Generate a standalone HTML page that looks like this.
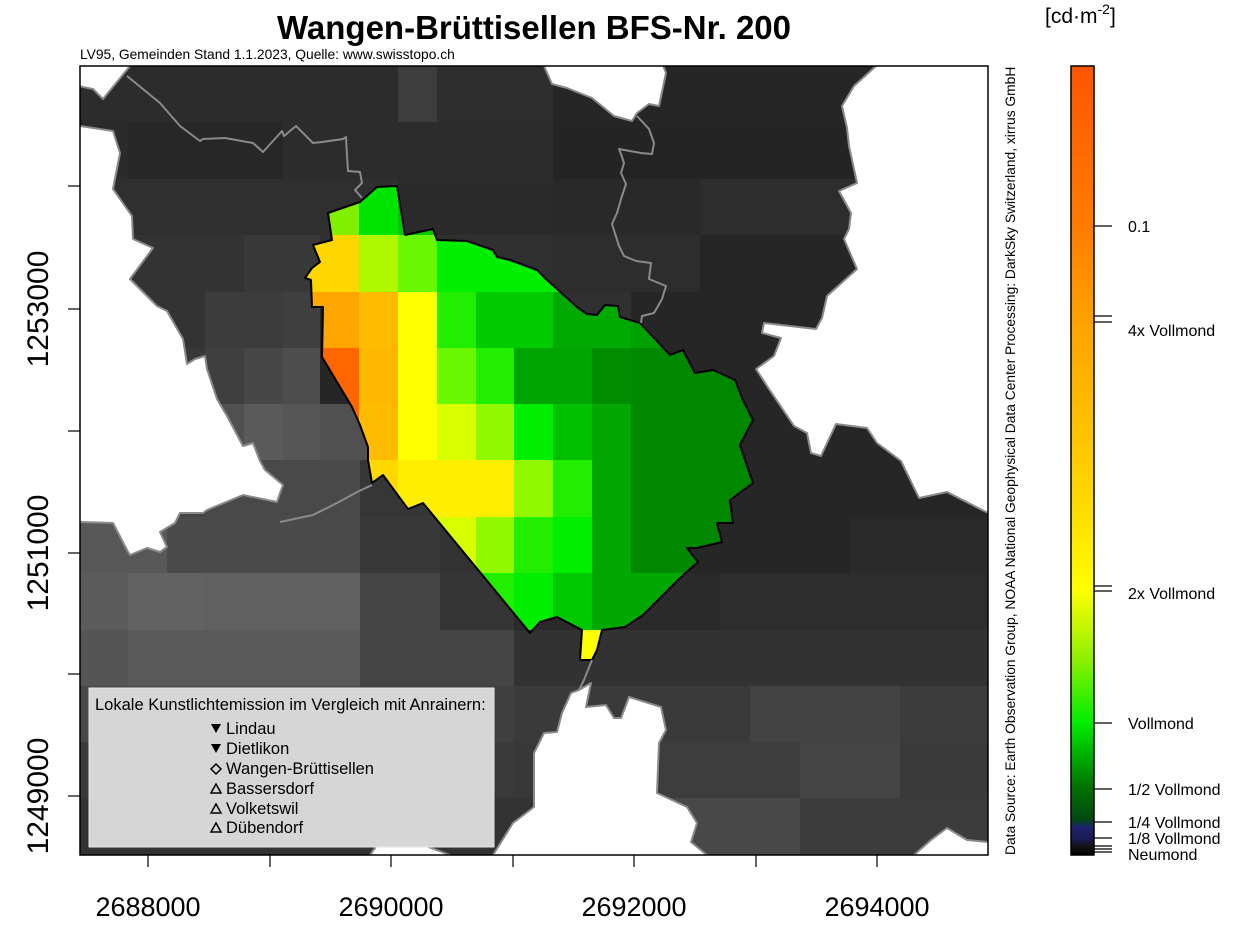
<!DOCTYPE html>
<html><head><meta charset="utf-8"><style>
html,body{margin:0;padding:0;background:#fff;}
svg{display:block;font-family:"Liberation Sans",sans-serif;}
</style></head><body>
<svg width="1235" height="926" viewBox="0 0 1235 926" xmlns="http://www.w3.org/2000/svg">
<defs>
<clipPath id="plot"><rect x="80" y="66" width="908" height="789"/></clipPath>
<clipPath id="muni"><polygon id="mp" points="328,213 360,202 377,187 397,186 405,235 433,229 437,240 467,241 493,250 497,257 510,260 537,270 547,280 577,307 587,314 597,315 605,305 618,306 620,317 640,323 670,355 683,350 695,373 713,370 735,380 743,400 753,420 740,445 753,483 730,500 733,523 717,523 722,542 697,548 687,548 698,562 680,578 643,615 625,627 602,630 597,650 592,660 580,660 582,630 557,617 540,622 530,633 423,503 408,509 383,475 372,483 368,460 368,447 360,425 352,407 322,357 323,307 312,307 311,280 305,278 312,268 320,262 313,245 332,240 328,213"/></clipPath>
<linearGradient id="cb" x1="0" y1="0" x2="0" y2="1">
<stop offset="0" stop-color="#ff5500"/>
<stop offset="0.203" stop-color="#ff7c00"/>
<stop offset="0.325" stop-color="#ffa200"/>
<stop offset="0.55" stop-color="#ffd800"/>
<stop offset="0.665" stop-color="#ffff00"/>
<stop offset="0.75" stop-color="#90f000"/>
<stop offset="0.832" stop-color="#00ee00"/>
<stop offset="0.916" stop-color="#007000"/>
<stop offset="0.955" stop-color="#004a10"/>
<stop offset="0.965" stop-color="#202070"/>
<stop offset="0.98" stop-color="#1a1a50"/>
<stop offset="0.99" stop-color="#111"/>
<stop offset="1" stop-color="#000"/>
</linearGradient>
</defs>
<g clip-path="url(#plot)" shape-rendering="crispEdges">
<rect x="80" y="66" width="318" height="57" fill="#2c2c2c"/><rect x="398" y="66" width="39" height="57" fill="#3d3d3d"/><rect x="437" y="66" width="116" height="57" fill="#2e2e2e"/><rect x="553" y="66" width="435" height="57" fill="#262626"/>
<rect x="80" y="122" width="48" height="57" fill="#2b2b2b"/><rect x="128" y="122" width="155" height="57" fill="#272727"/><rect x="283" y="122" width="270" height="57" fill="#2c2c2c"/><rect x="553" y="122" width="435" height="57" fill="#242424"/>
<rect x="80" y="179" width="318" height="57" fill="#2f2f2f"/><rect x="398" y="179" width="155" height="57" fill="#2b2b2b"/><rect x="553" y="179" width="147" height="57" fill="#292929"/><rect x="700" y="179" width="288" height="57" fill="#2d2d2d"/>
<rect x="80" y="235" width="164" height="57" fill="#333"/><rect x="244" y="235" width="76" height="57" fill="#393939"/><rect x="320" y="235" width="233" height="57" fill="#303030"/><rect x="553" y="235" width="147" height="57" fill="#2d2d2d"/><rect x="700" y="235" width="288" height="57" fill="#262626"/>
<rect x="80" y="292" width="125" height="57" fill="#333"/><rect x="205" y="292" width="78" height="57" fill="#3c3c3c"/><rect x="283" y="292" width="37" height="57" fill="#3f3f3f"/><rect x="320" y="292" width="668" height="57" fill="#262626"/><rect x="553" y="292" width="78" height="57" fill="#303030"/>
<rect x="80" y="348" width="125" height="57" fill="#383838"/><rect x="205" y="348" width="39" height="57" fill="#3f3f3f"/><rect x="244" y="348" width="39" height="57" fill="#474747"/><rect x="283" y="348" width="37" height="57" fill="#4d4d4d"/><rect x="320" y="348" width="668" height="57" fill="#262626"/>
<rect x="80" y="404" width="125" height="57" fill="#3a3a3a"/><rect x="205" y="404" width="39" height="57" fill="#505050"/><rect x="244" y="404" width="39" height="57" fill="#5a5a5a"/><rect x="283" y="404" width="37" height="57" fill="#565656"/><rect x="320" y="404" width="50" height="57" fill="#505050"/><rect x="370" y="404" width="618" height="57" fill="#262626"/>
<rect x="80" y="460" width="125" height="57" fill="#444"/><rect x="205" y="460" width="155" height="57" fill="#494949"/><rect x="360" y="460" width="80" height="57" fill="#363636"/><rect x="440" y="460" width="548" height="57" fill="#262626"/>
<rect x="80" y="517" width="87" height="57" fill="#585858"/><rect x="167" y="517" width="193" height="57" fill="#4a4a4a"/><rect x="360" y="517" width="80" height="57" fill="#383838"/><rect x="440" y="517" width="74" height="57" fill="#333"/><rect x="514" y="517" width="336" height="57" fill="#262626"/><rect x="850" y="517" width="138" height="57" fill="#2a2a2a"/>
<rect x="80" y="573" width="48" height="57" fill="#5c5c5c"/><rect x="128" y="573" width="77" height="57" fill="#626262"/><rect x="205" y="573" width="155" height="57" fill="#606060"/><rect x="360" y="573" width="80" height="57" fill="#444"/><rect x="440" y="573" width="74" height="57" fill="#353535"/><rect x="514" y="573" width="206" height="57" fill="#2a2a2a"/><rect x="720" y="573" width="268" height="57" fill="#2d2d2d"/>
<rect x="80" y="630" width="48" height="57" fill="#555"/><rect x="128" y="630" width="232" height="57" fill="#5a5a5a"/><rect x="360" y="630" width="154" height="57" fill="#454545"/><rect x="514" y="630" width="474" height="57" fill="#323232"/>
<rect x="80" y="686" width="280" height="57" fill="#484848"/><rect x="360" y="686" width="154" height="57" fill="#404040"/><rect x="514" y="686" width="236" height="57" fill="#3a3a3a"/><rect x="750" y="686" width="150" height="57" fill="#424242"/><rect x="900" y="686" width="88" height="57" fill="#3c3c3c"/>
<rect x="80" y="742" width="434" height="57" fill="#3a3a3a"/><rect x="514" y="742" width="146" height="57" fill="#383838"/><rect x="660" y="742" width="140" height="57" fill="#3d3d3d"/><rect x="800" y="742" width="100" height="57" fill="#444"/><rect x="900" y="742" width="88" height="57" fill="#3a3a3a"/>
<rect x="80" y="798" width="580" height="57" fill="#333"/><rect x="660" y="798" width="140" height="57" fill="#484848"/><rect x="800" y="798" width="188" height="57" fill="#3c3c3c"/>
</g>
<g clip-path="url(#muni)" shape-rendering="crispEdges">
<rect x="300" y="179" width="59" height="57" fill="#80f000"/><rect x="359" y="179" width="39" height="57" fill="#00e400"/><rect x="398" y="179" width="40" height="57" fill="#00c800"/>
<rect x="300" y="235" width="59" height="57" fill="#ffd700"/><rect x="359" y="235" width="39" height="57" fill="#b0f800"/><rect x="398" y="235" width="39" height="57" fill="#6af800"/><rect x="437" y="235" width="320" height="57" fill="#00ee00"/>
<rect x="300" y="292" width="59" height="57" fill="#ffa500"/><rect x="359" y="292" width="39" height="57" fill="#ffbb00"/><rect x="398" y="292" width="39" height="57" fill="#ffff00"/><rect x="437" y="292" width="39" height="57" fill="#22ee00"/><rect x="476" y="292" width="77" height="57" fill="#00cc00"/><rect x="553" y="292" width="78" height="57" fill="#00aa00"/><rect x="631" y="292" width="130" height="57" fill="#00a000"/>
<rect x="300" y="348" width="59" height="57" fill="#ff6600"/><rect x="359" y="348" width="39" height="57" fill="#ffb800"/><rect x="398" y="348" width="39" height="57" fill="#ffff00"/><rect x="437" y="348" width="39" height="57" fill="#6af800"/><rect x="476" y="348" width="38" height="57" fill="#22ee00"/><rect x="514" y="348" width="78" height="57" fill="#00a400"/><rect x="592" y="348" width="39" height="57" fill="#008c00"/><rect x="631" y="348" width="130" height="57" fill="#008800"/>
<rect x="300" y="404" width="59" height="57" fill="#ff6600"/><rect x="359" y="404" width="39" height="57" fill="#ffbb00"/><rect x="398" y="404" width="39" height="57" fill="#ffff00"/><rect x="437" y="404" width="39" height="57" fill="#d8ff00"/><rect x="476" y="404" width="38" height="57" fill="#90f800"/><rect x="514" y="404" width="39" height="57" fill="#00ee00"/><rect x="553" y="404" width="39" height="57" fill="#00c000"/><rect x="592" y="404" width="39" height="57" fill="#00a800"/><rect x="631" y="404" width="130" height="57" fill="#008800"/>
<rect x="300" y="460" width="98" height="57" fill="#ffd800"/><rect x="398" y="460" width="117" height="57" fill="#ffee00"/><rect x="514" y="460" width="39" height="57" fill="#90f800"/><rect x="553" y="460" width="39" height="57" fill="#22ee00"/><rect x="592" y="460" width="39" height="57" fill="#00a800"/><rect x="631" y="460" width="130" height="57" fill="#008800"/>
<rect x="398" y="517" width="78" height="57" fill="#d8ff00"/><rect x="476" y="517" width="38" height="57" fill="#90f800"/><rect x="514" y="517" width="39" height="57" fill="#22ee00"/><rect x="553" y="517" width="39" height="57" fill="#00ee00"/><rect x="592" y="517" width="39" height="57" fill="#00a800"/><rect x="631" y="517" width="130" height="57" fill="#008800"/>
<rect x="437" y="573" width="77" height="57" fill="#22ee00"/><rect x="514" y="573" width="39" height="57" fill="#00ee00"/><rect x="553" y="573" width="39" height="57" fill="#00c800"/><rect x="592" y="573" width="170" height="57" fill="#00a800"/>
<rect x="560" y="630" width="60" height="57" fill="#ffff00"/>
</g>
<use href="#mp" fill="none" stroke="#000" stroke-width="2" stroke-linejoin="round"/>
<g clip-path="url(#plot)" fill="#fff" stroke="#8a8a8a" stroke-width="2" stroke-linejoin="round">
<polygon points="70,60 130,60 130,66 103,99 93,89 78,86"/>
<polygon points="70,126 80,126 113,131 120,153 113,189 132,216 133,239 153,248 130,279 147,296 157,306 167,311 183,339 187,364 195,359 205,356 207,369 217,399 227,416 243,446 253,443 260,461 265,470 283,485 280,493 277,502 243,495 207,510 203,513 180,513 175,523 160,532 167,547 160,552 147,548 130,555 127,550 113,523 80,522 70,522"/>
<polygon points="544,60 544,66 552,84 567,88 592,98 614,116 632,121 637,113 649,104 659,106 666,73 661,60"/>
<polygon points="880,60 876,66 854,86 842,106 847,128 849,146 857,183 839,191 851,213 849,229 844,239 857,269 827,296 822,318 816,329 764,323 762,333 781,338 774,356 756,369 767,386 794,426 807,433 811,453 821,456 836,424 867,428 877,443 901,461 919,498 947,492 988,513 995,513 995,60"/>
<polygon points="493,862 493,855 513,823 534,807 534,753 544,733 557,732 562,713 571,693 579,690 591,683 586,707 606,705 614,718 621,718 629,697 661,707 666,730 659,743 657,793 687,807 697,823 691,842 707,855 707,862"/>
<polygon points="370,862 370,855 390,827 410,840 450,855 450,862"/>
<polygon points="914,862 914,855 931,840 947,828 967,840 988,842 995,842 995,862"/>
</g>
<g fill="none" stroke="#8a8a8a" stroke-width="2" stroke-linejoin="round">
<polyline points="127,76 160,103 180,126 200,141 203,139 225,138 253,143 263,152 282,131 284,136 296,126 313,143 322,142 343,139 346,137 347,156 348,171 360,172 362,183 355,190 362,198"/>
<polyline points="637,116 649,129 654,143 652,154 641,153 619,149 621,154 624,163 621,173 626,184 622,196 617,213 612,224 619,246 624,256 636,261 651,263 649,279 666,286 662,299 654,313 642,316 641,323"/>
<polyline points="280,522 313,515 337,503 357,492 372,485"/>
<polyline points="592,660 584,680 579,690"/>
</g>
<rect x="89" y="688" width="405" height="159" fill="#d6d6d6" stroke="#e6e6e6" stroke-width="1"/>
<g font-size="16.5" fill="#000">
<text x="95" y="710">Lokale Kunstlichtemission im Vergleich mit Anrainern:</text>
<text x="226" y="734">Lindau</text>
<text x="226" y="754">Dietlikon</text>
<text x="226" y="774">Wangen-Brüttisellen</text>
<text x="226" y="794">Bassersdorf</text>
<text x="226" y="814">Volketswil</text>
<text x="226" y="833">Dübendorf</text>
</g>
<polygon points="211,724 221,724 216,733" fill="#000"/>
<polygon points="211,744 221,744 216,753" fill="#000"/>
<polygon points="216,764 221,769 216,774 211,769" fill="none" stroke="#000" stroke-width="1.5"/>
<polygon points="216,784 221,793 211,793" fill="none" stroke="#000" stroke-width="1.5"/>
<polygon points="216,804 221,813 211,813" fill="none" stroke="#000" stroke-width="1.5"/>
<polygon points="216,823 221,832 211,832" fill="none" stroke="#000" stroke-width="1.5"/>
<rect x="80" y="66" width="908" height="789" fill="none" stroke="#000" stroke-width="1.5"/>
<g stroke="#000" stroke-width="1.2">
<line x1="148" y1="855" x2="148" y2="867"/><line x1="270" y1="855" x2="270" y2="867"/><line x1="391" y1="855" x2="391" y2="867"/><line x1="513" y1="855" x2="513" y2="867"/><line x1="634" y1="855" x2="634" y2="867"/><line x1="756" y1="855" x2="756" y2="867"/><line x1="877" y1="855" x2="877" y2="867"/>
<line x1="68" y1="186" x2="80" y2="186"/><line x1="68" y1="309" x2="80" y2="309"/><line x1="68" y1="431" x2="80" y2="431"/><line x1="68" y1="553" x2="80" y2="553"/><line x1="68" y1="674" x2="80" y2="674"/><line x1="68" y1="796" x2="80" y2="796"/>
</g>
<g font-size="27" fill="#000" text-anchor="middle">
<text x="148" y="916">2688000</text><text x="391" y="916">2690000</text><text x="634" y="916">2692000</text><text x="877" y="916">2694000</text>
</g>
<g font-size="30" fill="#000" text-anchor="middle">
<text transform="translate(48,309) rotate(-90)">1253000</text>
<text transform="translate(48,553) rotate(-90)">1251000</text>
<text transform="translate(48,796) rotate(-90)">1249000</text>
</g>
<text x="534" y="39" font-size="33" font-weight="bold" text-anchor="middle">Wangen-Brüttisellen BFS-Nr. 200</text>
<text x="80" y="59" font-size="13.8">LV95, Gemeinden Stand 1.1.2023, Quelle: www.swisstopo.ch</text>
<text transform="translate(1015,855) rotate(-90)" font-size="13.8">Data Source: Earth Observation Group, NOAA National Geophysical Data Center  Processing: DarkSky Switzerland, xirrus GmbH</text>
<rect x="1071" y="66" width="23" height="789" fill="url(#cb)" stroke="#000" stroke-width="1.5"/>
<g stroke="#000" stroke-width="1.2">
<line x1="1094" y1="226" x2="1112" y2="226"/><line x1="1094" y1="316" x2="1112" y2="316"/><line x1="1094" y1="322" x2="1112" y2="322"/>
<line x1="1094" y1="586" x2="1112" y2="586"/><line x1="1094" y1="591" x2="1112" y2="591"/><line x1="1094" y1="723" x2="1112" y2="723"/>
<line x1="1094" y1="789" x2="1112" y2="789"/><line x1="1094" y1="822" x2="1112" y2="822"/><line x1="1094" y1="838" x2="1112" y2="838"/>
<line x1="1094" y1="846" x2="1112" y2="846"/><line x1="1094" y1="849" x2="1112" y2="849"/><line x1="1094" y1="852" x2="1112" y2="852"/>
</g>
<g font-size="16" fill="#000">
<text x="1128" y="232">0.1</text>
<text x="1128" y="336">4x Vollmond</text>
<text x="1128" y="599">2x Vollmond</text>
<text x="1128" y="729">Vollmond</text>
<text x="1128" y="795">1/2 Vollmond</text>
<text x="1128" y="828">1/4 Vollmond</text>
<text x="1128" y="844">1/8 Vollmond</text>
<text x="1128" y="860">Neumond</text>
</g>
<text x="1045" y="23" font-size="21">[cd·m<tspan dy="-9" font-size="14">-2</tspan><tspan dy="9">]</tspan></text>
</svg>
</body></html>
